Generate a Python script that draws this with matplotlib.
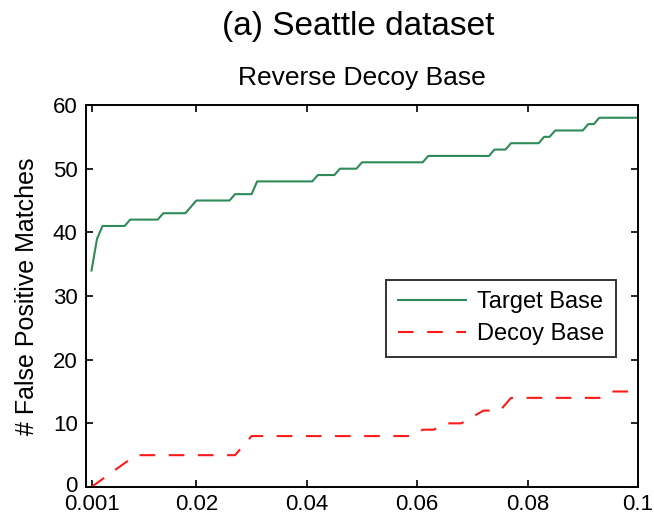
import matplotlib.pyplot as plt
import matplotlib.transforms as mtransforms

plt.rcParams['font.family'] = ['Liberation Sans', 'DejaVu Sans']

# false positive counts vs. threshold
target_x = [0.001, 0.002, 0.003, 0.007, 0.008, 0.013, 0.014, 0.018, 0.020, 0.026,
            0.027, 0.030, 0.031, 0.041, 0.042, 0.045, 0.046, 0.049, 0.050, 0.061,
            0.062, 0.073, 0.074, 0.076, 0.077, 0.082, 0.083, 0.084, 0.085, 0.090,
            0.091, 0.092, 0.093, 0.100]
target_y = [34, 39, 41, 41, 42, 42, 43, 43, 45, 45,
            46, 46, 48, 48, 49, 49, 50, 50, 51, 51,
            52, 52, 53, 53, 54, 54, 55, 55, 56, 56,
            57, 57, 58, 58]

decoy_x = [0.001, 0.009, 0.027, 0.030, 0.059, 0.061, 0.063, 0.065, 0.068, 0.070,
           0.072, 0.075, 0.077, 0.093, 0.095, 0.100]
decoy_y = [0, 5, 5, 8, 8, 9, 9, 10, 10, 11,
           12, 12, 14, 14, 15, 15]

x_ticks = [0.001, 0.02, 0.04, 0.06, 0.08, 0.1]
x_labels = ['0.001', '0.02', '0.04', '0.06', '0.08', '0.1']
y_ticks = [0, 10, 20, 30, 40, 50, 60]

fig = plt.figure(figsize=(6.54, 5.16), dpi=100)
ax = fig.add_axes([0.1315, 0.0562, 0.844, 0.7403])

ax.plot(target_x, target_y, color='#2e8b57', lw=1.5, label='Target Base')
ax.plot(decoy_x, decoy_y, color='#ff1a1a', lw=1.5, dashes=(7.5, 6.5), label='Decoy Base')

ax.set_xlim(0, 0.1)
ax.set_ylim(0, 60)
ax.set_xticks(x_ticks)
ax.set_xticklabels(x_labels)
ax.set_yticks(y_ticks)
ax.tick_params(direction='in', length=5, width=1.2, top=True, right=True,
               labelsize=16)
ax.tick_params(axis='x', pad=5)
ax.tick_params(axis='y', pad=6)
for s in ax.spines.values():
    s.set_linewidth(1.4)

# lift the "0" a little so it clears the first x label
zero_lbl = ax.get_yticklabels()[0]
zero_lbl.set_transform(zero_lbl.get_transform() +
                       mtransforms.ScaledTranslation(0, 3 / 100, fig.dpi_scale_trans))

ax.set_ylabel('# False Positive Matches', fontsize=18)
ax.yaxis.set_label_coords(-0.085, 0.5)

fig.text(0.547, 1 - 27 / 516, '(a) Seattle dataset', fontsize=24,
         ha='center', va='center')
fig.text(0.553, 1 - 78 / 516, 'Reverse Decoy Base', fontsize=19,
         ha='center', va='center')

leg = ax.legend(loc='upper left', bbox_to_anchor=(0.543, 0.543), fontsize=17,
                frameon=True, fancybox=False, edgecolor='black',
                handlelength=2.9, handletextpad=0.45, borderpad=0.5,
                labelspacing=0.42, borderaxespad=0)
leg.get_frame().set_linewidth(1.4)

fig.savefig('out.png', dpi=100)
